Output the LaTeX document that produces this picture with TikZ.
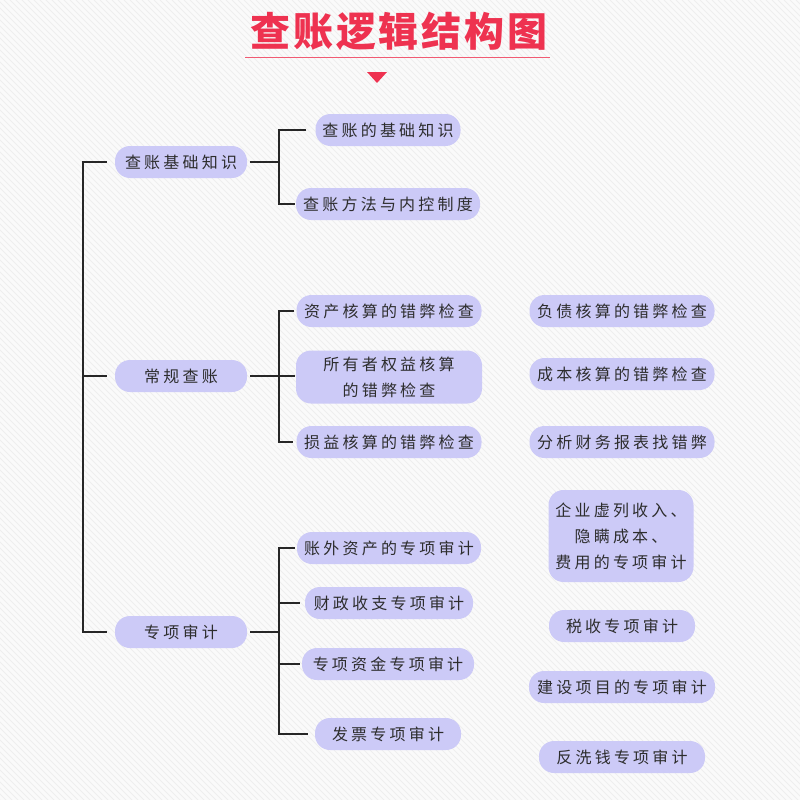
\documentclass[tikz,border=0pt]{standalone}
\usepackage{fontspec}
\newfontfamily\cjk[LetterSpace=20]{Noto Sans CJK SC}
\newfontfamily\cjktitle[LetterSpace=7]{Noto Sans CJK SC}
\usetikzlibrary{positioning}
\definecolor{pill}{RGB}{204,202,247}
\definecolor{ink}{RGB}{45,45,45}
\definecolor{titlered}{RGB}{238,50,80}
\definecolor{stripe}{RGB}{238,238,238}
\tikzset{
  pillbox/.style={fill=pill, rounded corners=15pt, minimum height=32pt,
                  inner xsep=6pt, inner ysep=4pt, text=ink, align=center,
                  font=\cjk\fontsize{16}{26}\selectfont},
  topbox/.style={pillbox, minimum width=132pt},
  link/.style={draw=black!85, line width=2pt},
}

\begin{document}
\begin{tikzpicture}[x=1pt, y=-1pt]
  \useasboundingbox (0,0) rectangle (800,800);

  % background stripes
  \begin{scope}
    \clip (0,0) rectangle (800,800);
    \fill[white!98!black] (0,0) rectangle (800,800);
    \foreach \i in {-800,-794,...,800}
      \draw[stripe, line width=0.8pt] (\i,0) -- (\i+800,800);
  \end{scope}

  % title
  \node[text=titlered, font=\cjktitle\bfseries\fontsize{40}{42}\selectfont] (title) at (399,31) {查账逻辑结构图};
  \draw[titlered!80, line width=1pt] (245,58) -- (550,58);
  \fill[titlered] (367,72) -- (387,72) -- (377,83) -- cycle;

  % level one
  \node[topbox] (jc) at (181,162) {查账基础知识};
  \node[topbox] (cg) at (181,376) {常规查账};
  \node[topbox] (zx) at (181,632) {专项审计};

  % level two
  \node[pillbox, minimum width=145pt] (jc1) at (388,130) {查账的基础知识};
  \node[pillbox, minimum width=184pt] (jc2) at (388,204) {查账方法与内控制度};

  \node[pillbox, minimum width=185pt] (cg1) at (389,311) {资产核算的错弊检查};
  \node[pillbox, minimum width=186pt, minimum height=53pt] (cg2) at (389,377) {所有者权益核算\\的错弊检查};
  \node[pillbox, minimum width=185pt] (cg3) at (389,442) {损益核算的错弊检查};
  \node[pillbox, minimum width=185pt] (cg4) at (622,311) {负债核算的错弊检查};
  \node[pillbox, minimum width=185pt] (cg5) at (622,374) {成本核算的错弊检查};
  \node[pillbox, minimum width=185pt] (cg6) at (622,442) {分析财务报表找错弊};

  \node[pillbox, minimum width=184pt] (zx1) at (389,548) {账外资产的专项审计};
  \node[pillbox, minimum width=168pt] (zx2) at (389,603) {财政收支专项审计};
  \node[pillbox, minimum width=172pt] (zx3) at (388,664) {专项资金专项审计};
  \node[pillbox, minimum width=146pt] (zx4) at (388,734) {发票专项审计};
  \node[pillbox, minimum width=145pt, minimum height=92pt] (zx5) at (621,536) {企业虚列收入、\\隐瞒成本、\\费用的专项审计};
  \node[pillbox, minimum width=146pt] (zx6) at (622,626) {税收专项审计};
  \node[pillbox, minimum width=186pt] (zx7) at (622,687) {建设项目的专项审计};
  \node[pillbox, minimum width=166pt] (zx8) at (622,757) {反洗钱专项审计};

  % connectors
  \coordinate (trunk) at (83,0);
  \coordinate (spine) at (279,0);

  \draw[link] ([xshift=-8pt]jc.west) -| (trunk |- zx.west) -- ([xshift=-8pt]zx.west);
  \draw[link] (trunk |- cg.west) -- ([xshift=-8pt]cg.west);

  \draw[link] ([xshift=3pt]jc.east) -- (spine |- jc.east);
  \draw[link] ([xshift=-9pt]jc1.west) -| (spine |- jc2.west) -- ([xshift=-1pt]jc2.west);

  \draw[link] ([xshift=3pt]cg.east) -- ([xshift=-1pt]cg2.west |- cg.east);
  \draw[link] ([xshift=-2pt]cg1.west) -| (spine |- cg3.west) -- ([xshift=-3pt]cg3.west);

  \draw[link] ([xshift=3pt]zx.east) -- (spine |- zx.east);
  \draw[link] ([xshift=-2pt]zx1.west) -| (spine |- zx4.west) -- ([xshift=-7pt]zx4.west);
  \draw[link] (spine |- zx2.west) -- ([xshift=-5pt]zx2.west);
  \draw[link] (spine |- zx3.west) -- ([xshift=-2pt]zx3.west);
\end{tikzpicture}
\end{document}
